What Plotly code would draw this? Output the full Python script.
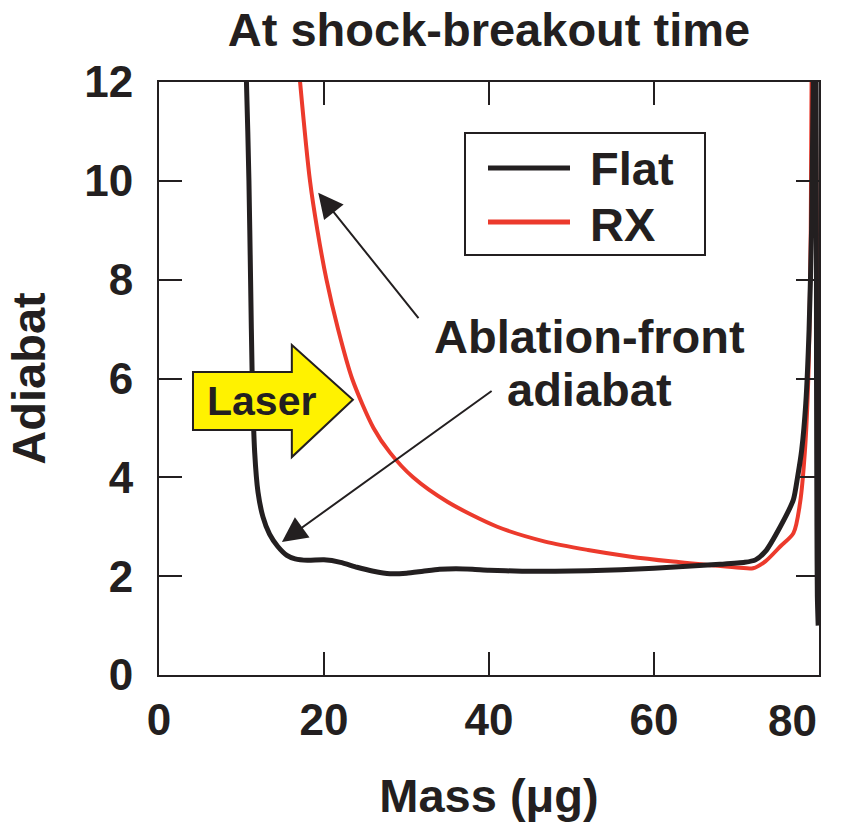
import plotly.graph_objects as go

# Flat target: adiabat vs. mass at shock breakout
flat_mass = [10.2, 10.6, 10.9, 11.1, 11.3, 11.6, 12.0, 12.6, 13.4, 14.4, 15.5, 16.5, 18.0,
             20.0, 22.0, 24.0, 26.0, 28.0, 30.0, 32.0, 34.0, 36.0, 38.0, 40.0, 44.0, 48.0,
             52.0, 56.0, 60.0, 64.0, 68.0, 71.0, 72.3, 73.5, 75.3, 76.9, 77.4, 77.9, 78.4,
             78.8, 79.1, 79.3, 79.5, 79.65, 79.7, 79.75, 79.8, 79.9]
flat_adiabat = [13.5, 12.0, 10.0, 8.0, 6.0, 4.5, 3.7, 3.2, 2.85, 2.6, 2.42, 2.35, 2.32,
                2.33, 2.28, 2.18, 2.10, 2.05, 2.06, 2.10, 2.14, 2.15, 2.14, 2.12, 2.10, 2.10,
                2.11, 2.13, 2.16, 2.20, 2.24, 2.28, 2.33, 2.50, 3.00, 3.55, 4.00, 4.55, 5.50,
                7.00, 9.00, 12.0, 13.5, 12.0, 6.0, 3.0, 1.6, 1.0]

# RX target
rx_mass = [16.6, 17.1, 18.3, 19.2, 20.3, 21.7, 23.4, 26.0, 28.0, 30.8, 35.0,
           41.0, 46.8, 52.0, 57.0, 62.0, 67.0, 70.4, 72.0, 73.5, 75.3, 76.9, 77.7, 78.3,
           78.7, 79.0, 79.1, 79.3, 79.6, 79.8, 79.9]
rx_adiabat = [13.0, 12.0, 10.0, 9.0, 8.0, 7.0, 6.0, 5.0, 4.5, 4.0, 3.5,
              3.0, 2.7, 2.53, 2.40, 2.30, 2.22, 2.17, 2.16, 2.30, 2.60, 2.87, 3.48, 4.55,
              6.0, 9.0, 12.0, 13.5, 12.0, 6.0, 2.0]

x_ticks = [0, 20, 40, 60, 80]
# the last label is drawn right-aligned at the axis end so it stays inside the page
x_tick_text = ["0", "20", "40", "60", ""]
x_last_label = "80"
y_ticks = [0, 2, 4, 6, 8, 10, 12]

INK = "#231f20"
RED = "#ec3a2c"
FONT = "Liberation Sans, Arial, Helvetica, sans-serif"

fig = go.Figure()
fig.add_trace(go.Scatter(x=rx_mass, y=rx_adiabat, mode="lines", name="RX",
                         line=dict(color=RED, width=4, shape="spline", smoothing=0.8),
                         showlegend=False))
fig.add_trace(go.Scatter(x=flat_mass, y=flat_adiabat, mode="lines", name="Flat",
                         line=dict(color=INK, width=5, shape="spline", smoothing=0.6),
                         showlegend=False))

tick_font = dict(family=FONT, size=44, color=INK, weight="bold")
axis_common = dict(
    showline=True, linecolor=INK, linewidth=2, mirror="ticks",
    ticks="inside", ticklen=23, tickwidth=2, tickcolor=INK,
    showgrid=False, zeroline=False, tickfont=tick_font,
)

fig.update_xaxes(range=[0, 80], tickvals=x_ticks, ticktext=x_tick_text, ticklabelstandoff=5,
                 title=dict(text="Mass (μg)", standoff=44,
                            font=dict(family=FONT, size=47, color=INK, weight="bold")),
                 **axis_common)
fig.update_yaxes(range=[0, 12], tickvals=y_ticks, ticklabelstandoff=15,
                 title=dict(text="Adiabat", standoff=24,
                            font=dict(family=FONT, size=47, color=INK, weight="bold")),
                 **axis_common)

shapes = []
# Legend box and sample lines
shapes.append(dict(type="rect", xref="paper", yref="paper",
                   x0=(465 - 159) / 660, x1=(705 - 159) / 660,
                   y0=(675 - 255) / 593, y1=(675 - 133) / 593,
                   line=dict(color=INK, width=2), fillcolor="white", layer="above"))
shapes.append(dict(type="line", xref="paper", yref="paper",
                   x0=(488 - 159) / 660, x1=(570 - 159) / 660,
                   y0=(675 - 168) / 593, y1=(675 - 168) / 593,
                   line=dict(color=INK, width=5), layer="above"))
shapes.append(dict(type="line", xref="paper", yref="paper",
                   x0=(488 - 159) / 660, x1=(570 - 159) / 660,
                   y0=(675 - 222) / 593, y1=(675 - 222) / 593,
                   line=dict(color=RED, width=5), layer="above"))

# Yellow "Laser" arrow
shapes.append(dict(
    type="path", xref="x", yref="y",
    path="M 4.12 6.13 L 16.1 6.13 L 16.1 6.68 L 23.5 5.57 L 16.1 4.41 "
         "L 16.1 4.96 L 4.12 4.96 Z",
    fillcolor="#fff200", line=dict(color=INK, width=2), layer="above"))

fig.update_layout(shapes=shapes)

label_font = dict(family=FONT, size=47, color=INK, weight="bold")
annotations = [
    dict(xref="x", yref="paper", x=x_ticks[-1], y=(675 - 720) / 593, text=x_last_label,
         showarrow=False, xanchor="right", yanchor="middle", font=tick_font),
    dict(xref="paper", yref="paper", x=(588 - 159) / 660, y=(675 - 168) / 593,
         text="Flat", showarrow=False, xanchor="left", yanchor="middle", font=label_font),
    dict(xref="paper", yref="paper", x=(588 - 159) / 660, y=(675 - 224) / 593,
         text="RX", showarrow=False, xanchor="left", yanchor="middle", font=label_font),
    dict(x=12.4, y=5.55, text="Laser", showarrow=False,
         font=dict(family=FONT, size=41, color=INK, weight="bold")),
    dict(x=52.2, y=6.84, text="Ablation-front", showarrow=False, font=label_font),
    dict(x=52.2, y=5.77, text="adiabat", showarrow=False, font=label_font),
    # pointer arrows to the ablation-front adiabat on each curve
    dict(x=19.3, y=9.76, ax=31.6, ay=7.19, axref="x", ayref="y", text="",
         showarrow=True, arrowhead=2, arrowsize=2.5, arrowwidth=2, arrowcolor=INK),
    dict(x=14.9, y=2.69, ax=40.5, ay=5.77, axref="x", ayref="y", text="",
         showarrow=True, arrowhead=2, arrowsize=2.5, arrowwidth=2, arrowcolor=INK),
]

fig.update_layout(
    width=843, height=822,
    margin=dict(l=159, r=24, t=82, b=147, autoexpand=False),
    paper_bgcolor="white", plot_bgcolor="white",
    title=dict(text="At shock-breakout time", x=0.5, xref="paper",
               y=1 - 30 / 822, yref="container", yanchor="middle", xanchor="center",
               font=dict(family=FONT, size=47, color=INK, weight="bold")),
    annotations=annotations,
)

fig.write_html("out.html")
